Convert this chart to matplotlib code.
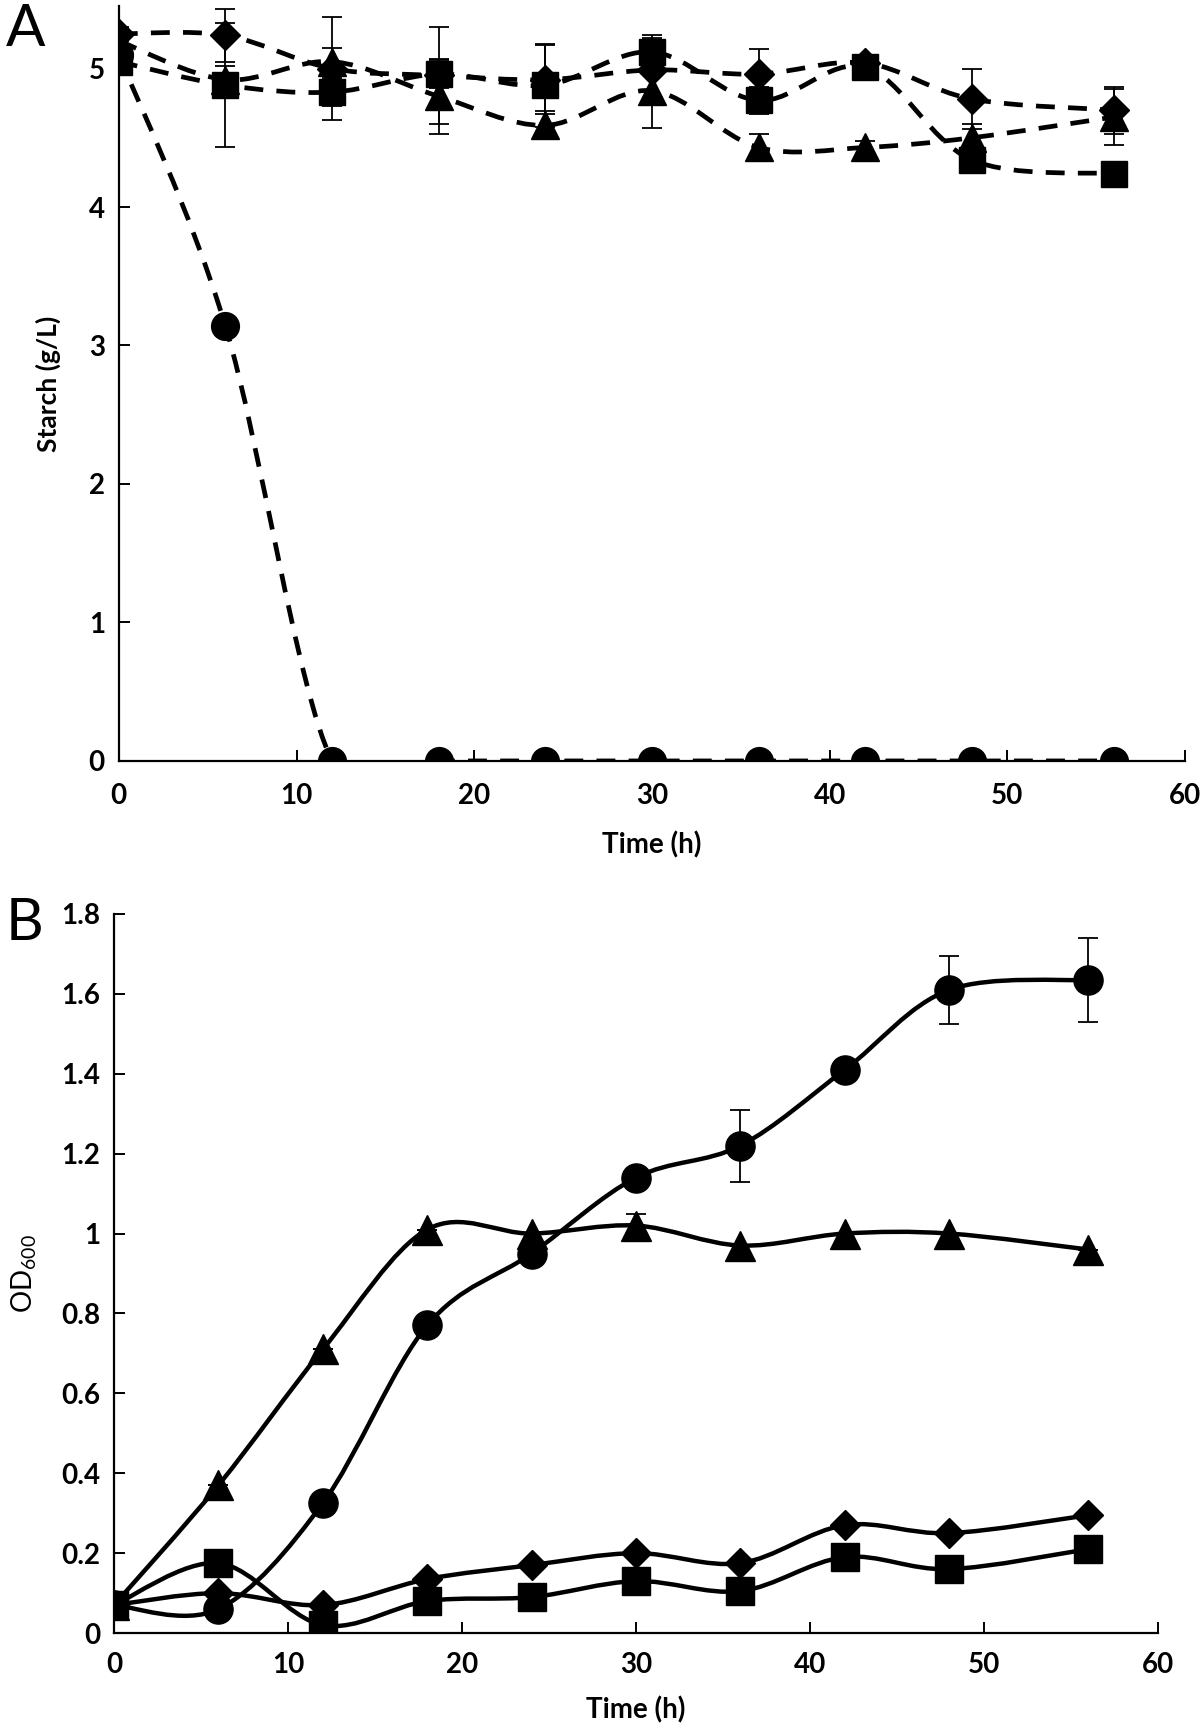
import numpy as np
import matplotlib
matplotlib.use('Agg')
import matplotlib.pyplot as plt
from matplotlib.path import Path
from matplotlib.patches import PathPatch

plt.rcParams['font.family'] = ['Lato', 'DejaVu Sans']
plt.rcParams['mathtext.fontset'] = 'custom'
plt.rcParams['mathtext.rm'] = 'Lato'

# sampling times (h)
time_h = [0, 6, 12, 18, 24, 30, 36, 42, 48, 56]

# panel A: starch (g/L)
starch_circle = [5.10, 3.14, 0, 0, 0, 0, 0, 0, 0, 0]
starch_diamond = [5.25, 5.24, 5.00, 4.95, 4.92, 4.99, 4.96, 5.04, 4.78, 4.70]
starch_square = [5.05, 4.88, 4.83, 4.96, 4.88, 5.12, 4.77, 5.01, 4.34, 4.24]
starch_triangle = [5.20, 4.92, 5.05, 4.80, 4.59, 4.84, 4.43, 4.43, 4.50, 4.65]
starch_err_diamond = [0.05, 0.19, 0.37, 0.35, 0.25, 0.25, 0.18, 0.05, 0.22, 0.17]
starch_err_square = [0.05, 0.45, 0.10, 0.10, 0.30, 0.10, 0.10, 0.05, 0.05, 0.05]
starch_err_triangle = [0.05, 0.10, 0.10, 0.27, 0.10, 0.27, 0.10, 0.05, 0.10, 0.20]

# panel B: OD600
od_circle = [0.07, 0.06, 0.325, 0.77, 0.95, 1.14, 1.22, 1.41, 1.61, 1.635]
od_triangle = [0.07, 0.37, 0.71, 1.01, 1.00, 1.02, 0.97, 1.00, 1.00, 0.96]
od_diamond = [0.07, 0.10, 0.07, 0.135, 0.17, 0.20, 0.175, 0.27, 0.25, 0.295]
od_square = [0.07, 0.175, 0.02, 0.08, 0.09, 0.13, 0.105, 0.19, 0.16, 0.21]
od_err_circle = [0, 0, 0, 0, 0, 0, 0.09, 0, 0.085, 0.105]
od_err_triangle = [0, 0, 0, 0, 0, 0.03, 0, 0, 0, 0]


def smooth_path(x, y):
    # excel-like smoothed line: cubic bezier through the points
    p = np.column_stack([x, y]).astype(float)
    n = len(p)
    verts = [p[0]]
    codes = [Path.MOVETO]
    for i in range(n - 1):
        p0 = p[max(i - 1, 0)]
        p3 = p[min(i + 2, n - 1)]
        c1 = p[i] + (p[i + 1] - p0) / 6.0
        c2 = p[i + 1] - (p3 - p[i]) / 6.0
        verts += [c1, c2, p[i + 1]]
        codes += [Path.CURVE4] * 3
    return Path(verts, codes)


def series(ax, y, marker, ms, err=None, dashed=False, lw=3.0):
    style = (0, (4, 2.8)) if dashed else '-'
    patch = PathPatch(smooth_path(time_h, y), facecolor='none', edgecolor='black',
                      lw=lw, linestyle=style, transform=ax.transData, zorder=2)
    ax.add_patch(patch)
    if err is not None:
        ax.errorbar(time_h, y, yerr=err, fmt='none', ecolor='black', elinewidth=1.3,
                    capsize=7, capthick=1.3, zorder=2.5)
    ax.plot(time_h, y, linestyle='none', marker=marker, ms=ms, color='black', zorder=3)


fig = plt.figure(figsize=(12, 17.29), dpi=100)

# ---- panel A
axA = fig.add_axes([0.099, 0.5599, 0.8885, 0.4365])
series(axA, starch_circle, 'o', 20, dashed=True, lw=3.4)
series(axA, starch_diamond, 'D', 15, starch_err_diamond, dashed=True, lw=3.4)
series(axA, starch_square, 's', 19, starch_err_square, dashed=True, lw=3.4)
series(axA, starch_triangle, '^', 20, starch_err_triangle, dashed=True, lw=3.4)
axA.set_xlim(0, 60)
axA.set_ylim(0, 5.45)
axA.set_yticks([0, 1, 2, 3, 4, 5])
axA.set_xticks([0, 10, 20, 30, 40, 50, 60])

# ---- panel B
axB = fig.add_axes([0.095, 0.0555, 0.87, 0.4159])
series(axB, od_circle, 'o', 21, od_err_circle, lw=3.2)
series(axB, od_triangle, '^', 21, od_err_triangle, lw=3.2)
series(axB, od_diamond, 'D', 15, lw=3.2)
series(axB, od_square, 's', 20, lw=3.2)
axB.set_xlim(0, 60)
axB.set_ylim(0, 1.8)
axB.set_yticks([0, 0.2, 0.4, 0.6, 0.8, 1, 1.2, 1.4, 1.6, 1.8])
axB.set_yticklabels(['0', '0.2', '0.4', '0.6', '0.8', '1', '1.2', '1.4', '1.6', '1.8'])
axB.set_xticks([0, 10, 20, 30, 40, 50, 60])

for ax in (axA, axB):
    ax.spines['top'].set_visible(False)
    ax.spines['right'].set_visible(False)
    ax.spines['left'].set_linewidth(1.6)
    ax.spines['bottom'].set_linewidth(1.6)
    ax.tick_params(direction='in', length=8, width=1.4, labelsize=20, pad=10)
    for lab in ax.get_xticklabels() + ax.get_yticklabels():
        lab.set_fontweight('bold')

axA.tick_params(axis='x', pad=16)
axB.tick_params(axis='x', pad=14)
axA.set_xlabel('Time (h)', fontsize=20, fontweight='bold', labelpad=16)
axA.set_ylabel('Starch (g/L)', fontsize=19, fontweight='bold', labelpad=20)
axB.set_xlabel('Time (h)', fontsize=20, fontweight='bold', labelpad=13)
axB.set_ylabel('OD$_{600}$', fontsize=20, labelpad=16)

fig.text(0.005, 0.998, 'A', fontsize=42, va='top', ha='left')
fig.text(0.005, 0.481, 'B', fontsize=42, va='top', ha='left')

fig.savefig('out.png', dpi=100)
